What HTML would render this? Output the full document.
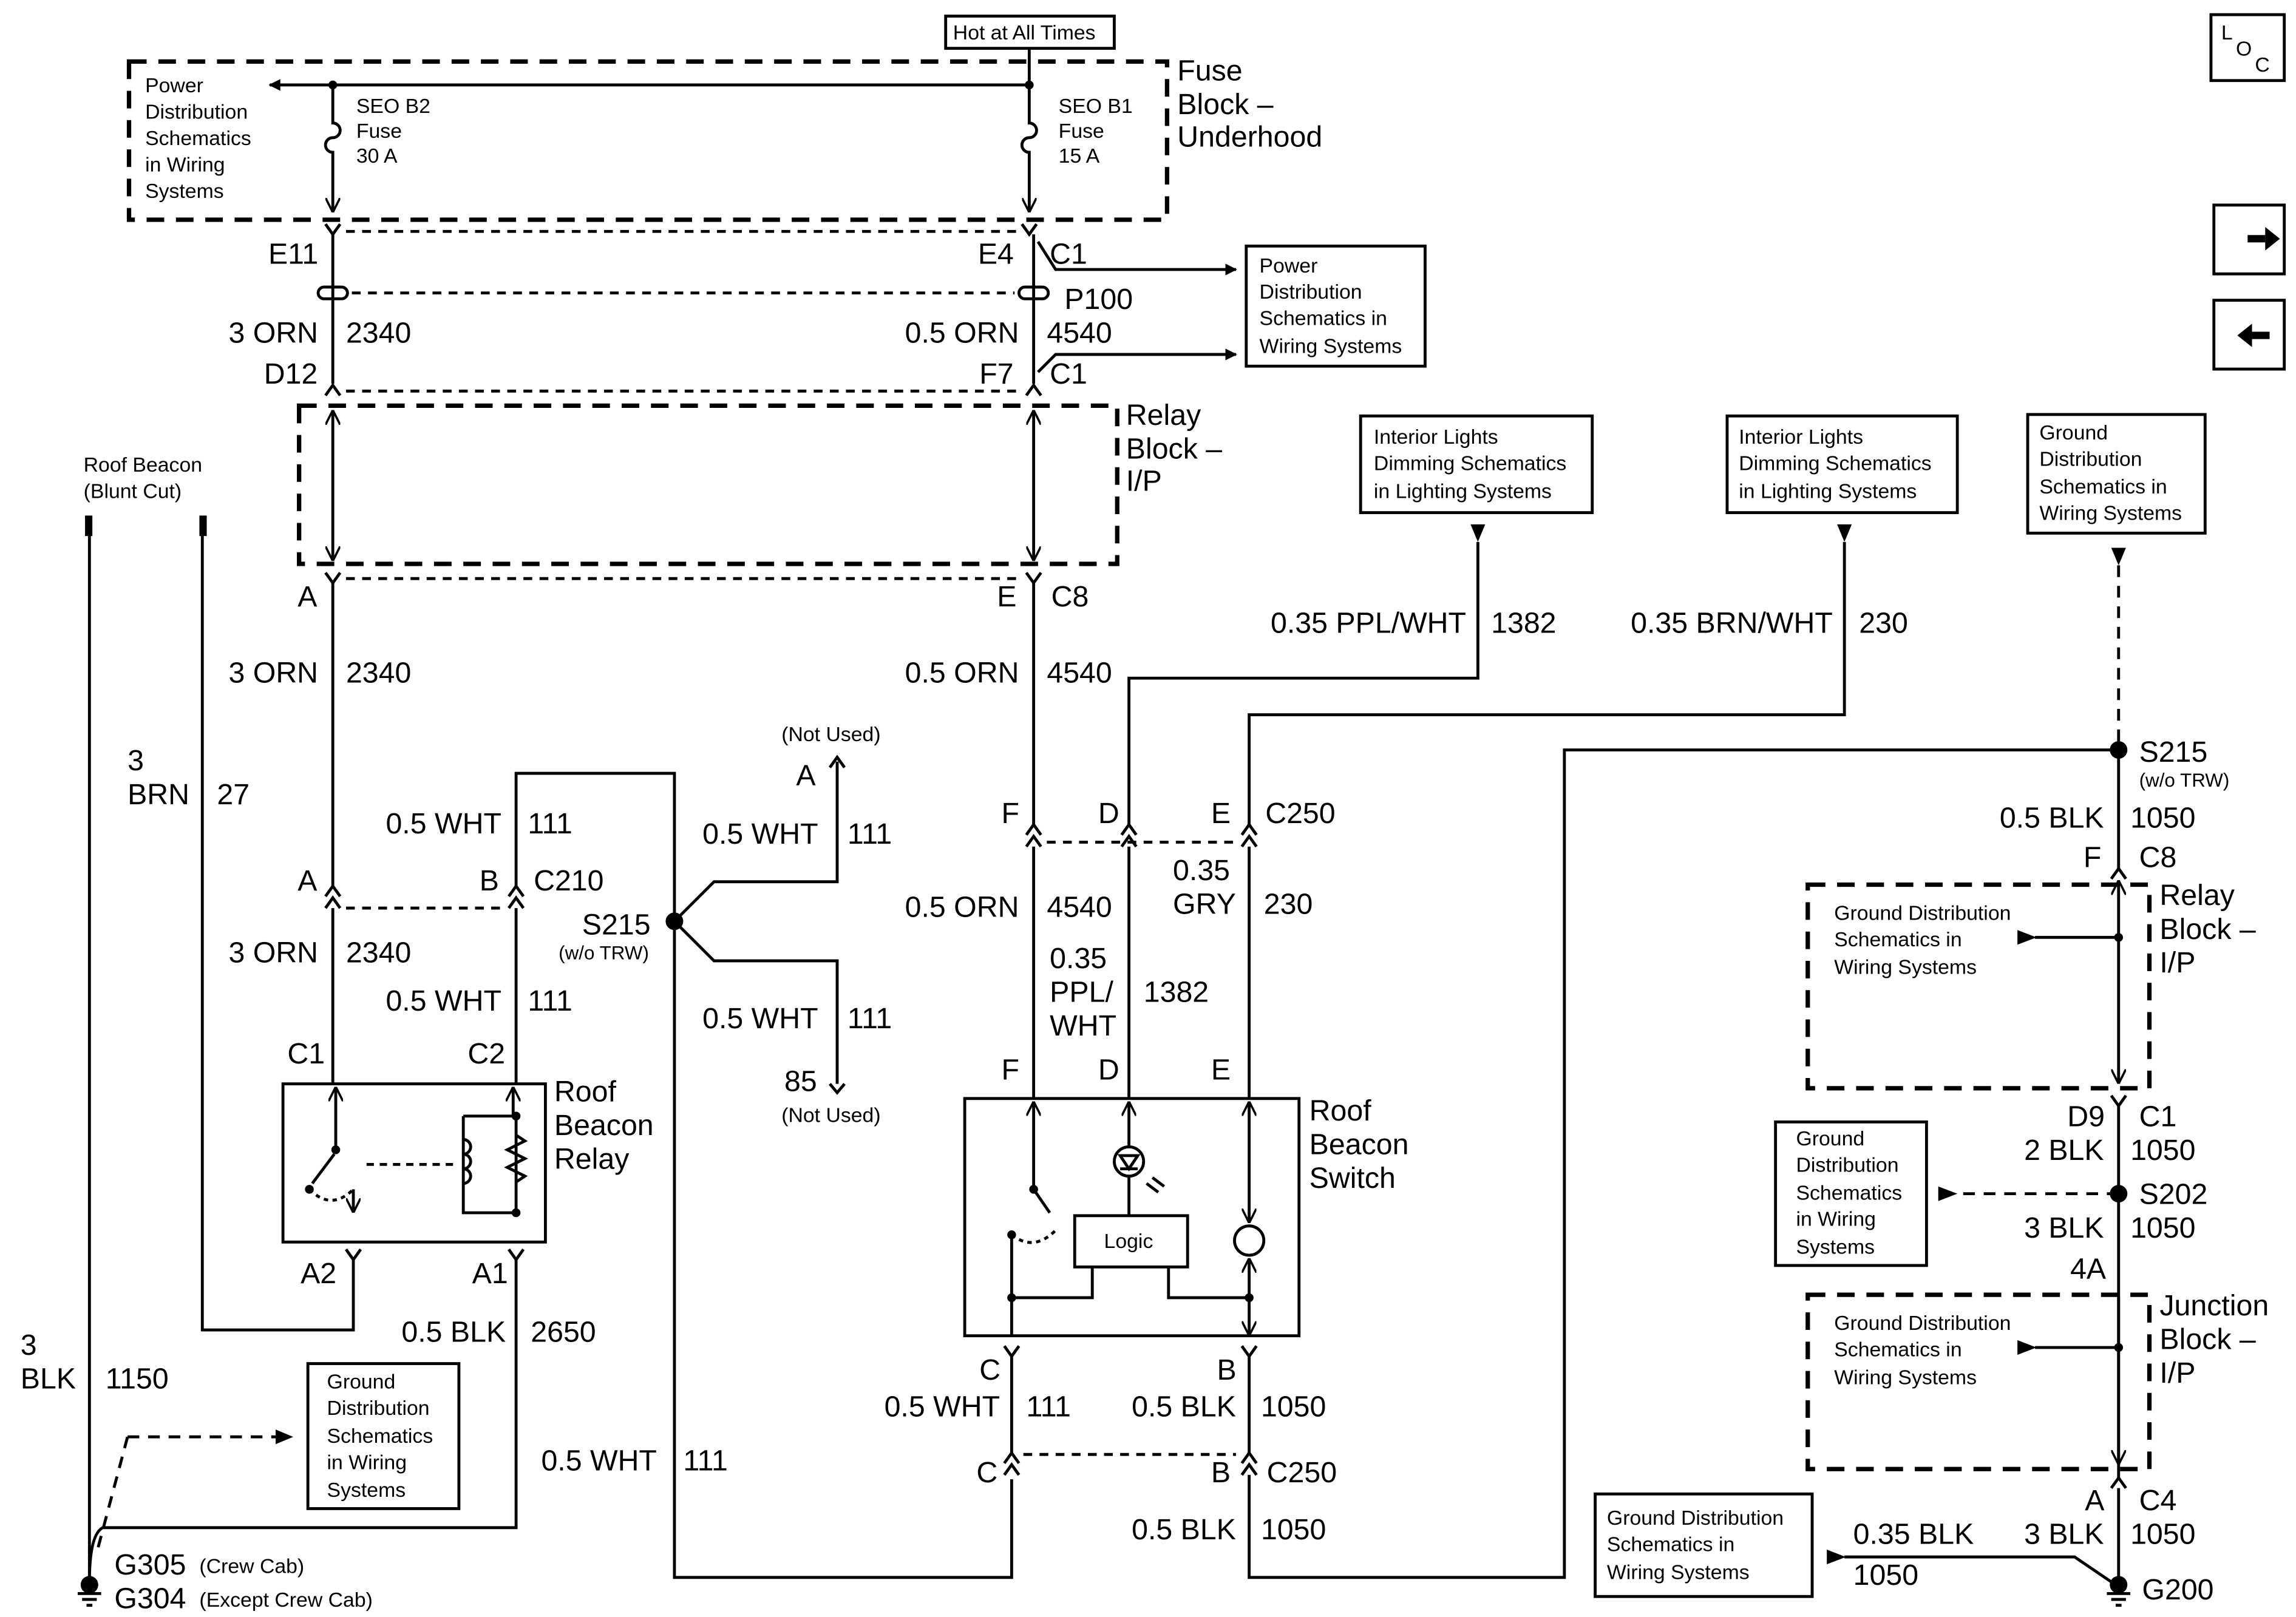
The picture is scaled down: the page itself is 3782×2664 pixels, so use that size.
<!DOCTYPE html>
<html><head><meta charset="utf-8"><style>
html,body{margin:0;padding:0;background:#fff}
svg{display:block}
text{font-family:"Liberation Sans",Arial,sans-serif;fill:#000}
.b{font-size:20px}.s{font-size:14px}.xs{font-size:13px}
</style></head><body>
<svg width="3782" height="2664" viewBox="0 0 1566 1104" preserveAspectRatio="none" xmlns="http://www.w3.org/2000/svg">
<defs>
<marker id="ah" viewBox="0 0 10 10" refX="9" refY="5" markerWidth="8" markerHeight="8" orient="auto-start-reverse" markerUnits="userSpaceOnUse"><path d="M0,0 L10,5 L0,10 z" fill="#000"/></marker>
<marker id="oa" viewBox="0 0 10 10" refX="10" refY="5" markerWidth="10" markerHeight="10" orient="auto-start-reverse" markerUnits="userSpaceOnUse"><path d="M0,0 L10,5 L0,10" fill="none" stroke="#000" stroke-width="1.5"/></marker>
</defs>
<g stroke="#000" fill="none" stroke-width="2">
<rect x="645" y="11" width="115" height="22" stroke-width="2"/>
<rect x="88" y="42" width="708" height="108" stroke-width="3" stroke-dasharray="12,8"/>
<line x1="702" y1="58" x2="184" y2="58" marker-end="url(#ah)"/>
<line x1="702" y1="33" x2="702" y2="58"/>
<path d="M227,58 V84 a5,5 0 0 1 0,10 a5,5 0 0 0 0,10 V145" marker-end="url(#oa)"/>
<path d="M702,58 V84 a5,5 0 0 1 0,10 a5,5 0 0 0 0,10 V145" marker-end="url(#oa)"/>
<path d="M222,153 L227,160 L232,153 M697,153 L702,160 L707,153"/>
<line x1="236" y1="158" x2="694" y2="158" stroke-dasharray="6,5"/>
<line x1="227" y1="160" x2="227" y2="262"/>
<line x1="705" y1="160" x2="705" y2="262"/>
<path d="M708,165 L720,184 H843" marker-end="url(#ah)"/>
<path d="M708,254 L720,242 H843" marker-end="url(#ah)"/>
<rect x="217" y="196" width="20" height="8" rx="4"/><rect x="695" y="196" width="20" height="8" rx="4"/>
<line x1="240" y1="200" x2="692" y2="200" stroke-dasharray="6,5"/>
<path d="M222,270 L227,263 L232,270 M700,270 L705,263 L710,270"/>
<line x1="236" y1="267" x2="698" y2="267" stroke-dasharray="6,5"/>
<rect x="204" y="277" width="558" height="108" stroke-width="3" stroke-dasharray="12,8"/>
<line x1="227" y1="280" x2="227" y2="383" marker-start="url(#oa)" marker-end="url(#oa)"/>
<line x1="705" y1="280" x2="705" y2="383" marker-start="url(#oa)" marker-end="url(#oa)"/>
<path d="M222,391 L227,398 L232,391 M700,391 L705,398 L710,391"/>
<line x1="236" y1="395" x2="698" y2="395" stroke-dasharray="6,5"/>
<line x1="227" y1="398" x2="227" y2="605"/>
<line x1="705" y1="398" x2="705" y2="563"/>
<path d="M222,612 L227,605 L232,612 M222,620 L227,613 L232,620 M347,612 L352,605 L357,612 M347,620 L352,613 L357,620"/>
<line x1="236" y1="620" x2="345" y2="620" stroke-dasharray="6,5"/>
<line x1="227" y1="620" x2="227" y2="740"/>
<path d="M352,605 V528 H460 V1077 H690 V1010"/>
<line x1="352" y1="620" x2="352" y2="740"/>
<rect x="193" y="740" width="179" height="108"/>
<line x1="229" y1="742" x2="229" y2="785" marker-start="url(#oa)"/>
<line x1="350" y1="742" x2="350" y2="762" marker-start="url(#oa)"/>
<path d="M316,762 H352 M316,762 V828 H352 M352,762 V828"/>
<path d="M316,778 a5,5 0 0 1 0,10 a5,5 0 0 1 0,10 a5,5 0 0 1 0,10"/>
<path d="M352,775 l6,4 -12,6 12,6 -12,6 12,6 -6,4"/>
<path d="M213,808 L228,788"/>
<line x1="250" y1="795" x2="312" y2="795" stroke-dasharray="5,4"/>
<path d="M211,812 q15,15 30,0" stroke-dasharray="3,3"/>
<line x1="241" y1="812" x2="241" y2="828" marker-end="url(#oa)"/>
<path d="M236,853 L241,860 L246,853 M347,853 L352,860 L357,853"/>
<path d="M138,365 V908 H241 V860"/>
<path d="M352,860 V1043 H70"/>
<line x1="61" y1="365" x2="61" y2="1080"/>
<path d="M460,629 L487,602 H571 V520"/>
<path d="M566,524 L571,517 L576,524"/>
<path d="M460,629 L487,656 H571 V740"/>
<path d="M566,740 L571,746 L576,740"/>
<path d="M700,570 L705,563 L710,570 M700,578 L705,571 L710,578 M765,570 L770,563 L775,570 M765,578 L770,571 L775,578 M847,570 L852,563 L857,570 M847,578 L852,571 L857,578"/>
<line x1="714" y1="575" x2="843" y2="575" stroke-dasharray="6,5"/>
<line x1="705" y1="578" x2="705" y2="750"/>
<path d="M1008,370 V463 H770 V563"/>
<line x1="770" y1="578" x2="770" y2="750"/>
<path d="M1258,370 V488 H852 V563"/>
<line x1="852" y1="578" x2="852" y2="750"/>
<rect x="658" y="750" width="228" height="162"/>
<line x1="705" y1="752" x2="705" y2="810" marker-start="url(#oa)"/>
<path d="M705,812 L716,828"/>
<path d="M690,843 q15,12 30,-3" stroke-dasharray="3,3"/>
<line x1="770" y1="752" x2="770" y2="783" marker-start="url(#oa)"/>
<circle cx="770" cy="793" r="10"/>
<path d="M764,789 h12 l-6,9 z M764,798 h12"/>
<line x1="770" y1="803" x2="770" y2="830"/>
<path d="M782,808 l8,6 M786,804 l8,6"/>
<rect x="733" y="830" width="77" height="35"/>
<line x1="852" y1="752" x2="852" y2="835" marker-start="url(#oa)" marker-end="url(#oa)"/>
<circle cx="852" cy="847" r="10" fill="#fff"/>
<line x1="852" y1="859" x2="852" y2="912" marker-start="url(#oa)" marker-end="url(#oa)"/>
<path d="M690,843 V912 M690,886 H745 V865 M797,865 V886 H852"/>
<path d="M685,919 L690,926 L695,919 M847,919 L852,926 L857,919 M685,999 L690,992 L695,999 M685,1007 L690,1000 L695,1007 M847,999 L852,992 L857,999 M847,1007 L852,1000 L857,1007"/>
<line x1="690" y1="926" x2="690" y2="992"/><line x1="852" y1="926" x2="852" y2="992"/>
<line x1="698" y1="993" x2="843" y2="993" stroke-dasharray="6,5"/>
<path d="M852,1007 V1077 H1067 V512 H1445"/>
<rect x="850" y="168" width="122" height="82"/>
<rect x="928" y="284" width="158" height="66"/>
<rect x="1178" y="284" width="157" height="66"/>
<rect x="1383" y="283" width="121" height="81"/>
<rect x="1211" y="766" width="103" height="98"/>
<rect x="210" y="931" width="103" height="99"/>
<rect x="1088" y="1020" width="148" height="70"/>
<rect x="1508" y="10" width="50" height="45"/>
<rect x="1510" y="140" width="48" height="47"/>
<rect x="1510" y="205" width="48" height="47"/>
<line x1="1445" y1="386" x2="1445" y2="512" stroke-dasharray="8,6"/>
<line x1="1445" y1="512" x2="1445" y2="593"/>
<path d="M1440,600 L1445,593 L1450,600"/>
<rect x="1233" y="604" width="233" height="139" stroke-width="3" stroke-dasharray="12,8"/>
<line x1="1445" y1="601" x2="1445" y2="740" marker-start="url(#oa)" marker-end="url(#oa)"/>
<line x1="1388" y1="640" x2="1445" y2="640"/>
<path d="M1440,748 L1445,755 L1450,748"/>
<line x1="1445" y1="755" x2="1445" y2="1010"/>
<line x1="1445" y1="815" x2="1334" y2="815" stroke-dasharray="8,6"/>
<rect x="1233" y="884" width="233" height="119" stroke-width="3" stroke-dasharray="12,8"/>
<line x1="1445" y1="886" x2="1445" y2="1000" marker-end="url(#oa)"/>
<line x1="1388" y1="920" x2="1445" y2="920"/>
<path d="M1440,1016 L1445,1009 L1450,1016"/>
<path d="M1445,1016 V1080 M1258,1063 H1415 L1440,1080"/>
<path d="M87,981 H190 M87,981 L66,1060" stroke-dasharray="8,6"/>
<path d="M70,1043 q-9,5 -9,37"/>
<path d="M53,1088 h16 M56,1092 h10 M59,1096 h4 M1437,1088 h16 M1440,1092 h10 M1443,1096 h4"/>
<line x1="1533" y1="163" x2="1545" y2="163" stroke-width="5"/>
<line x1="1536" y1="229" x2="1548" y2="229" stroke-width="5"/>
</g>
<g fill="#000">
<circle cx="227" cy="58" r="3"/><circle cx="702" cy="58" r="3"/>
<circle cx="460" cy="629" r="6"/><circle cx="1445" cy="512" r="6"/><circle cx="1445" cy="815" r="6"/>
<circle cx="61" cy="1082" r="6"/><circle cx="1445" cy="1082" r="6"/>
<circle cx="1445" cy="640" r="3"/><circle cx="1445" cy="920" r="3"/>
<circle cx="229" cy="785" r="3"/><circle cx="211" cy="812" r="3"/><circle cx="352" cy="762" r="3"/><circle cx="352" cy="828" r="3"/>
<circle cx="690" cy="886" r="3"/><circle cx="852" cy="886" r="3"/><circle cx="705" cy="812" r="3"/><circle cx="690" cy="843" r="3"/>
<rect x="58" y="352" width="5" height="14"/><rect x="136" y="352" width="5" height="14"/>
<path d="M1008,370 l-5,-12 h10 z M1258,370 l-5,-12 h10 z M1445,386 l-5,-12 h10 z M1376,635 v10 l13,-5 z M1376,915 v10 l13,-5 z M1322,810 v10 l13,-5 z M200,981 l-12,-5 v10 z M1246,1058 v10 l13,-5 z"/>
<path d="M1545,155 l10,8 -10,8 z M1536,221 l-10,8 10,8 z"/>
</g>
<g class="s">
<text x="650" y="27">Hot at All Times</text>
<text x="99" y="63">Power</text><text x="99" y="81">Distribution</text><text x="99" y="99">Schematics</text><text x="99" y="117">in Wiring</text><text x="99" y="135">Systems</text>
<text x="243" y="77">SEO B2</text><text x="243" y="94">Fuse</text><text x="243" y="111">30 A</text>
<text x="722" y="77">SEO B1</text><text x="722" y="94">Fuse</text><text x="722" y="111">15 A</text>
<text x="859" y="186">Power</text><text x="859" y="204">Distribution</text><text x="859" y="222">Schematics in</text><text x="859" y="241">Wiring Systems</text>
<text x="937" y="303">Interior Lights</text><text x="937" y="321">Dimming Schematics</text><text x="937" y="340">in Lighting Systems</text>
<text x="1186" y="303">Interior Lights</text><text x="1186" y="321">Dimming Schematics</text><text x="1186" y="340">in Lighting Systems</text>
<text x="1391" y="300">Ground</text><text x="1391" y="318">Distribution</text><text x="1391" y="337">Schematics in</text><text x="1391" y="355">Wiring Systems</text>
<text x="57" y="322">Roof Beacon</text><text x="57" y="340">(Blunt Cut)</text>
<text x="533" y="506">(Not Used)</text><text x="533" y="766">(Not Used)</text>
<text x="753" y="852">Logic</text>
<text x="1251" y="628">Ground Distribution</text><text x="1251" y="646">Schematics in</text><text x="1251" y="665">Wiring Systems</text>
<text x="1251" y="908">Ground Distribution</text><text x="1251" y="926">Schematics in</text><text x="1251" y="945">Wiring Systems</text>
<text x="1225" y="782">Ground</text><text x="1225" y="800">Distribution</text><text x="1225" y="819">Schematics</text><text x="1225" y="837">in Wiring</text><text x="1225" y="856">Systems</text>
<text x="223" y="948">Ground</text><text x="223" y="966">Distribution</text><text x="223" y="985">Schematics</text><text x="223" y="1003">in Wiring</text><text x="223" y="1022">Systems</text>
<text x="1096" y="1041">Ground Distribution</text><text x="1096" y="1059">Schematics in</text><text x="1096" y="1078">Wiring Systems</text>
<text x="136" y="1074">(Crew Cab)</text><text x="136" y="1097">(Except Crew Cab)</text>
<text x="381" y="655" class="xs">(w/o TRW)</text><text x="1459" y="537" class="xs">(w/o TRW)</text>
<text x="1515" y="27">L</text><text x="1525" y="38">O</text><text x="1538" y="49">C</text>
</g>
<g class="b">
<text x="803" y="55">Fuse</text><text x="803" y="78">Block –</text><text x="803" y="100">Underhood</text>
<text x="183" y="180">E11</text><text x="667" y="180">E4</text><text x="716" y="180">C1</text>
<text x="726" y="211">P100</text>
<text x="217" y="234" text-anchor="end">3 ORN</text><text x="236" y="234">2340</text>
<text x="695" y="234" text-anchor="end">0.5 ORN</text><text x="714" y="234">4540</text>
<text x="180" y="262">D12</text><text x="668" y="262">F7</text><text x="716" y="262">C1</text>
<text x="768" y="290">Relay</text><text x="768" y="313">Block –</text><text x="768" y="335">I/P</text>
<text x="203" y="414">A</text><text x="680" y="414">E</text><text x="717" y="414">C8</text>
<text x="217" y="466" text-anchor="end">3 ORN</text><text x="236" y="466">2340</text>
<text x="695" y="466" text-anchor="end">0.5 ORN</text><text x="714" y="466">4540</text>
<text x="1000" y="432" text-anchor="end">0.35 PPL/WHT</text><text x="1017" y="432">1382</text>
<text x="1250" y="432" text-anchor="end">0.35 BRN/WHT</text><text x="1268" y="432">230</text>
<text x="87" y="526">3</text><text x="87" y="549">BRN</text><text x="148" y="549">27</text>
<text x="342" y="569" text-anchor="end">0.5 WHT</text><text x="360" y="569">111</text>
<text x="558" y="576" text-anchor="end">0.5 WHT</text><text x="578" y="576">111</text>
<text x="543" y="536">A</text>
<text x="203" y="608">A</text><text x="327" y="608">B</text><text x="364" y="608">C210</text>
<text x="397" y="638">S215</text>
<text x="217" y="657" text-anchor="end">3 ORN</text><text x="236" y="657">2340</text>
<text x="342" y="690" text-anchor="end">0.5 WHT</text><text x="360" y="690">111</text>
<text x="558" y="702" text-anchor="end">0.5 WHT</text><text x="578" y="702">111</text>
<text x="196" y="726">C1</text><text x="319" y="726">C2</text>
<text x="535" y="745">85</text>
<text x="378" y="752">Roof</text><text x="378" y="775">Beacon</text><text x="378" y="798">Relay</text>
<text x="205" y="876">A2</text><text x="322" y="876">A1</text>
<text x="345" y="916" text-anchor="end">0.5 BLK</text><text x="362" y="916">2650</text>
<text x="14" y="925">3</text><text x="14" y="948">BLK</text><text x="72" y="948">1150</text>
<text x="448" y="1004" text-anchor="end">0.5 WHT</text><text x="466" y="1004">111</text>
<text x="78" y="1075">G305</text><text x="78" y="1098">G304</text>
<text x="683" y="562">F</text><text x="749" y="562">D</text><text x="826" y="562">E</text><text x="863" y="562">C250</text>
<text x="800" y="601">0.35</text><text x="800" y="624">GRY</text><text x="862" y="624">230</text>
<text x="695" y="626" text-anchor="end">0.5 ORN</text><text x="714" y="626">4540</text>
<text x="716" y="661">0.35</text><text x="716" y="684">PPL/</text><text x="716" y="707">WHT</text><text x="780" y="684">1382</text>
<text x="683" y="737">F</text><text x="749" y="737">D</text><text x="826" y="737">E</text>
<text x="893" y="765">Roof</text><text x="893" y="788">Beacon</text><text x="893" y="811">Switch</text>
<text x="668" y="942">C</text><text x="830" y="942">B</text>
<text x="682" y="967" text-anchor="end">0.5 WHT</text><text x="700" y="967">111</text>
<text x="843" y="967" text-anchor="end">0.5 BLK</text><text x="860" y="967">1050</text>
<text x="666" y="1012">C</text><text x="826" y="1012">B</text><text x="864" y="1012">C250</text>
<text x="843" y="1051" text-anchor="end">0.5 BLK</text><text x="860" y="1051">1050</text>
<text x="1459" y="520">S215</text>
<text x="1435" y="565" text-anchor="end">0.5 BLK</text><text x="1453" y="565">1050</text>
<text x="1421" y="592">F</text><text x="1459" y="592">C8</text>
<text x="1473" y="618">Relay</text><text x="1473" y="641">Block –</text><text x="1473" y="664">I/P</text>
<text x="1410" y="769">D9</text><text x="1459" y="769">C1</text>
<text x="1435" y="792" text-anchor="end">2 BLK</text><text x="1453" y="792">1050</text>
<text x="1459" y="822">S202</text>
<text x="1435" y="845" text-anchor="end">3 BLK</text><text x="1453" y="845">1050</text>
<text x="1412" y="873">4A</text>
<text x="1473" y="898">Junction</text><text x="1473" y="921">Block –</text><text x="1473" y="944">I/P</text>
<text x="1422" y="1031">A</text><text x="1459" y="1031">C4</text>
<text x="1435" y="1054" text-anchor="end">3 BLK</text><text x="1453" y="1054">1050</text>
<text x="1264" y="1054">0.35 BLK</text><text x="1264" y="1082">1050</text>
<text x="1461" y="1092">G200</text>
</g>
</svg>
</body></html>
